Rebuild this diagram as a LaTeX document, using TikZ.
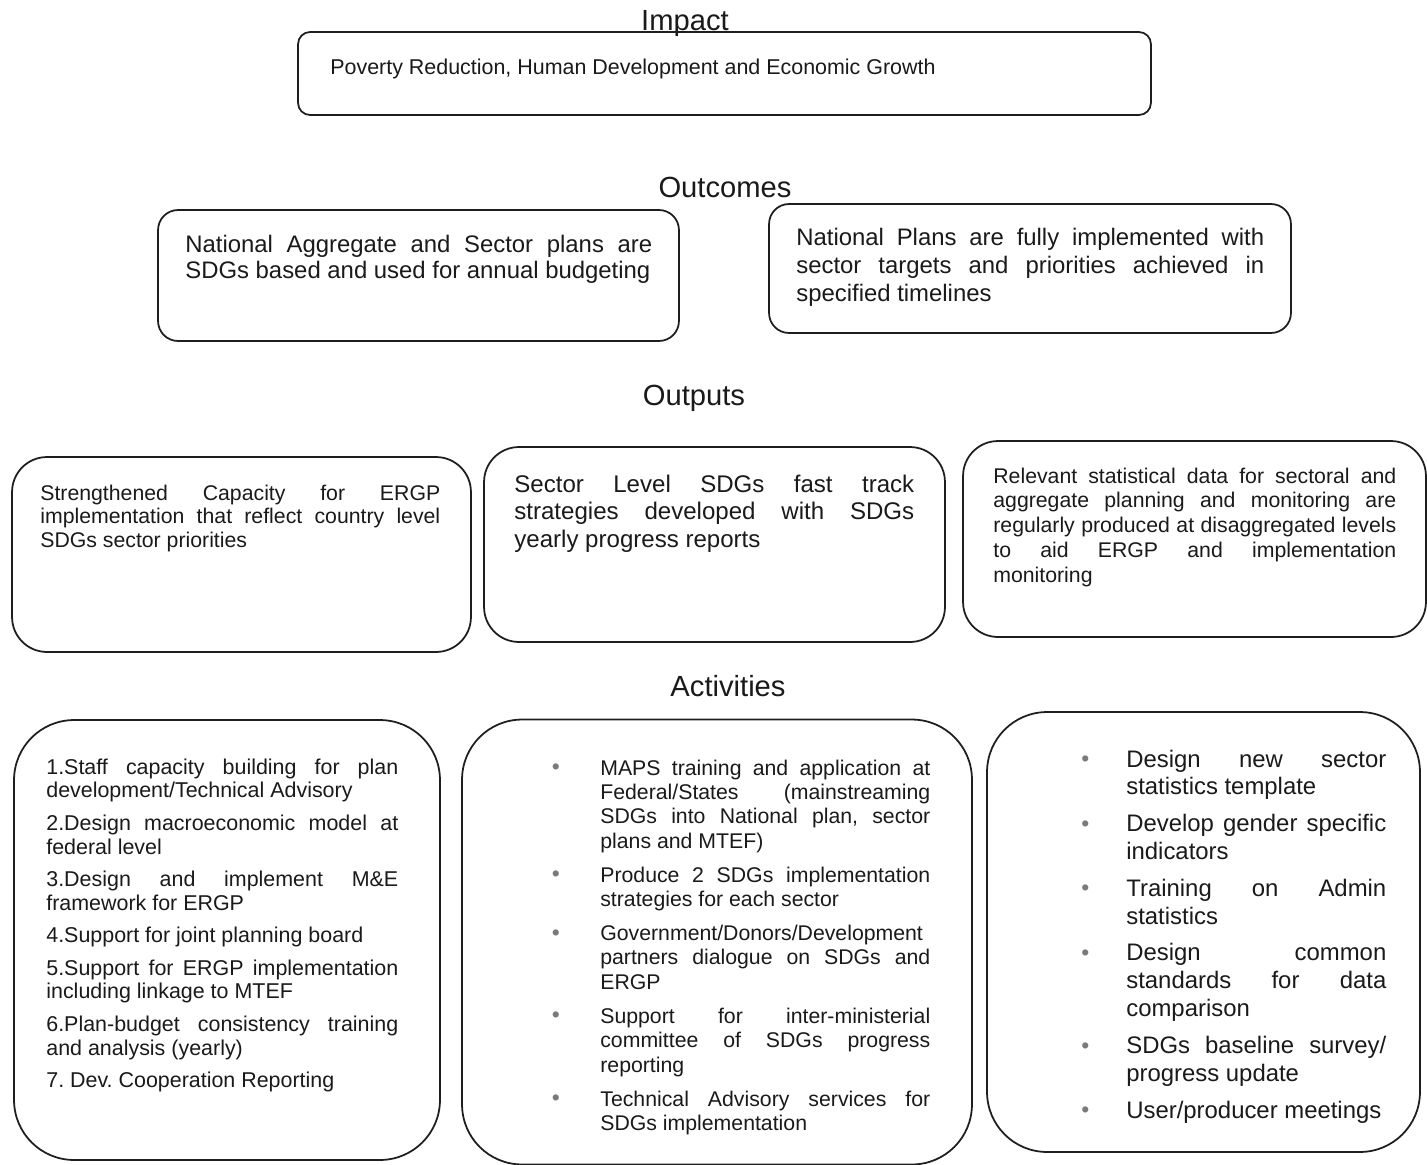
\documentclass[tikz,border=0pt]{standalone}
\usepackage{fontspec}
\setmainfont{Liberation Sans}
\definecolor{clrline}{HTML}{1E1E1E}
\definecolor{clrtext}{HTML}{1A1A1A}
\definecolor{clrbullet}{HTML}{7A7A7A}
\hyphenpenalty=10000
\exhyphenpenalty=10000
\tolerance=9999
\hbadness=10000
\frenchspacing
\newcommand{\itemgap}[1]{\par\vspace{#1}}
\newcommand{\dotmark}[1]{\noindent\llap{\textcolor{clrbullet}{\raisebox{0.2pt}{\fontsize{13}{13}\selectfont\textbullet}}\hspace{#1}}}

\begin{document}
\begin{tikzpicture}[
    x=0.02cm, y=-0.02cm,
    every node/.style={text=clrtext},
    header/.style={font=\fontsize{16.6}{19}\selectfont, inner sep=0pt, anchor=base},
    box/.style={draw=clrline, line width=1pt, rectangle, inner sep=0pt},
    boxtext/.style={inner sep=0pt, anchor=base west, align=justify},
]
\fill[white] (0,0) rectangle (1427,1164);
\useasboundingbox (0,0) rectangle (1427,1164);
\node[header] (h_impact) at (685,30) {Impact};
\node[header] (h_outcomes) at (725,197) {Outcomes};
\node[header] (h_outputs) at (694,405) {Outputs};
\node[header] (h_activities) at (728,696) {Activities};
\node[box, rounded corners=0.24cm, minimum width=17.06cm, minimum height=1.66cm] (impact) at (724.5,73.5) {};
\node[box, rounded corners=0.4cm, minimum width=10.42cm, minimum height=2.62cm] (outc_1) at (418.5,275.5) {};
\node[box, rounded corners=0.4cm, minimum width=10.44cm, minimum height=2.58cm] (outc_2) at (1030,268.5) {};
\node[box, rounded corners=0.7cm, minimum width=9.18cm, minimum height=3.90cm] (outp_1) at (241.5,554.5) {};
\node[box, rounded corners=0.7cm, minimum width=9.22cm, minimum height=3.90cm] (outp_2) at (714.5,544.5) {};
\node[box, rounded corners=0.7cm, minimum width=9.26cm, minimum height=3.92cm] (outp_3) at (1194.5,539) {};
\node[box, rounded corners=1.2cm, minimum width=8.52cm, minimum height=8.80cm] (act_1) at (227,940) {};
\node[box, rounded corners=1.2cm, minimum width=10.20cm, minimum height=8.90cm] (act_2) at (717,942) {};
\node[box, rounded corners=1.2cm, minimum width=8.66cm, minimum height=8.80cm] (act_3) at (1203.5,932) {};
\node[inner sep=0pt, anchor=base west, font=\fontsize{12.2}{14}\selectfont] (t_impact) at (330,74) {Poverty Reduction, Human Development and Economic Growth};
\node[boxtext, text width=9.34cm, font=\fontsize{13.6}{14.8}\selectfont] (t_outc_1) at (185,252) {National Aggregate and Sector plans are\linebreak SDGs based and used for annual budgeting};
\node[boxtext, text width=9.36cm, font=\fontsize{13.6}{16.2}\selectfont] (t_outc_2) at (796,245) {National Plans are fully implemented with\linebreak sector targets and priorities achieved in\linebreak specified timelines};
\node[boxtext, text width=8.0cm, font=\fontsize{12.1}{13.6}\selectfont] (t_outp_1) at (40,500) {Strengthened Capacity for ERGP\linebreak implementation that reflect country level\linebreak SDGs sector priorities};
\node[boxtext, text width=8.0cm, font=\fontsize{13.7}{15.9}\selectfont] (t_outp_2) at (514,492) {Sector Level SDGs fast track\linebreak strategies developed with SDGs\linebreak yearly progress reports};
\node[boxtext, text width=8.06cm, font=\fontsize{12.1}{14.2}\selectfont] (t_outp_3) at (993,483) {Relevant statistical data for sectoral and\linebreak aggregate planning and monitoring are\linebreak regularly produced at disaggregated levels\linebreak to aid ERGP and implementation\linebreak monitoring};
\node[boxtext, text width=7.04cm, font=\fontsize{12.2}{13.6}\selectfont] (t_act_1) at (46,774) {1.Staff capacity building for plan\linebreak development/Technical Advisory\itemgap{4.8pt}
2.Design macroeconomic model at\linebreak federal level\itemgap{4.8pt}
3.Design and implement M\&E\linebreak framework for ERGP\itemgap{4.8pt}
4.Support for joint planning board\itemgap{4.8pt}
5.Support for ERGP implementation\linebreak including linkage to MTEF\itemgap{4.8pt}
6.Plan-budget consistency training\linebreak and analysis (yearly)\itemgap{4.8pt}
7. Dev. Cooperation Reporting};
\node[boxtext, text width=6.6cm, font=\fontsize{12.1}{13.9}\selectfont] (t_act_2) at (600,775) {\dotmark{23pt}MAPS training and application at\linebreak Federal/States (mainstreaming\linebreak SDGs into National plan, sector\linebreak plans and MTEF)\itemgap{5.4pt}
\dotmark{23pt}Produce 2 SDGs implementation\linebreak strategies for each sector\itemgap{5.4pt}
\dotmark{23pt}Government/Donors/Development\linebreak partners dialogue on SDGs and\linebreak ERGP\itemgap{5.4pt}
\dotmark{23pt}Support for inter-ministerial\linebreak committee of SDGs progress\linebreak reporting\itemgap{5.4pt}
\dotmark{23pt}Technical Advisory services for\linebreak SDGs implementation};
\node[boxtext, text width=5.2cm, font=\fontsize{13.6}{15.9}\selectfont] (t_act_3) at (1126,767) {\dotmark{21pt}Design new sector\linebreak statistics template\itemgap{5pt}
\dotmark{21pt}Develop gender specific\linebreak indicators\itemgap{5pt}
\dotmark{21pt}Training on Admin\linebreak statistics\itemgap{5pt}
\dotmark{21pt}Design common\linebreak standards for data\linebreak comparison\itemgap{5pt}
\dotmark{21pt}SDGs baseline survey/\linebreak progress update\itemgap{5pt}
\dotmark{21pt}User/producer meetings};
\end{tikzpicture}
\end{document}
